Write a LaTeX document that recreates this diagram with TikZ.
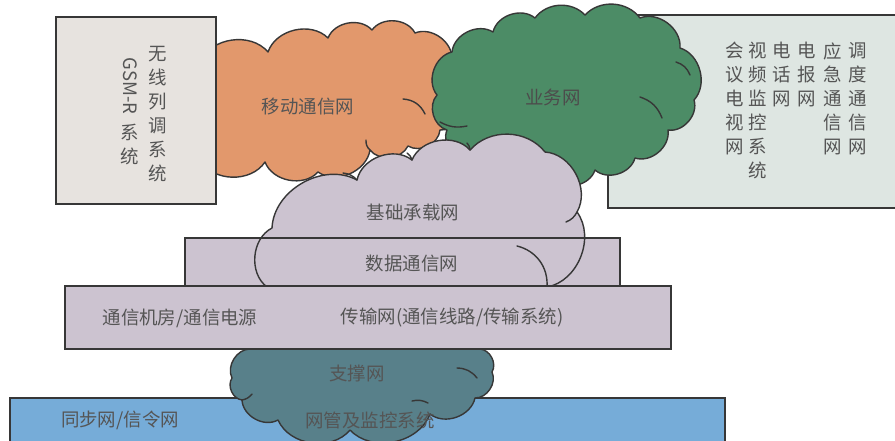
\documentclass[tikz,border=0pt]{standalone}
\usepackage{fontspec}
\newfontfamily\cjk{Noto Sans CJK SC}
\definecolor{linec}{RGB}{55,55,55}
\definecolor{textc}{RGB}{85,85,85}
\definecolor{orangec}{RGB}{226,152,108}
\definecolor{greenc}{RGB}{76,140,102}
\definecolor{lavc}{RGB}{204,195,208}
\definecolor{supc}{RGB}{88,128,138}
\definecolor{bluec}{RGB}{118,172,216}
\definecolor{gsmc}{RGB}{231,227,223}
\definecolor{svcc}{RGB}{222,230,226}
\begin{document}
\begin{tikzpicture}[x=0.02cm,y=-0.02cm,
  cloudline/.style={draw=linec, line width=0.8pt, line join=round},
  crease/.style={draw=linec, line width=0.8pt, line cap=round},
  pf/.style={bend left=58},
  boxbase/.style={draw=linec, line width=0.8pt},
  lbl/.style={font=\cjk\fontsize{10.5}{12}\selectfont, text=textc, inner sep=0pt},
  col/.style={lbl, align=center, anchor=north, font=\cjk\fontsize{10.5}{13.6}\selectfont}]
\clip (0,0) rectangle (895,440);
\fill[white] (0,0) rectangle (895,440);
% right service box
\path[boxbase, fill=svcc] (608,15) rectangle (905,208);
% orange cloud (mobile network)
\path[cloudline, fill=orangec] (200,62) to[pf] (268,52) to[pf] (328,38) to[pf] (372,30)
  to[pf] (415,33) to[pf] (452,60) to[pf] (462,100) to[pf] (440,130) to[pf] (408,146)
  to[pf] (370,150) to[pf] (318,172) to[pf] (265,162) to[pf] (200,160) to[pf] (200,62) -- cycle;
\draw[crease] (403,99) to[bend left=30] (425,114);
\draw[crease] (432,79) to[bend right=30] (455,70);
\draw[crease] (370,150) to[bend left=25] (366,140);
% left GSM-R box
\path[boxbase, fill=gsmc] (56,17) rectangle (216,204);
% green cloud (service network)
\path[cloudline, fill=greenc] (437,95) to[pf] (452,52) to[pf] (493,32) to[pf] (535,18)
  to[bend left=50] (585,15) to[bend left=50] (640,18) to[pf] (680,48) to[pf] (694,100)
  to[pf] (668,130) to[pf] (635,158) to[pf] (595,170) to[pf] (555,180) to[pf] (510,172)
  to[pf] (470,162) to[pf] (447,130) to[pf] (437,95) -- cycle;
\draw[crease] (440,122) to[bend right=20] (467,126);
\draw[crease] (640,97) to[bend left=25] (662,118);
\draw[crease] (676,62) to[bend left=25] (690,75);
% lavender cloud (base bearer network)
\path[fill=lavc] (267,287) to[pf] (272,228) to[pf] (357,180) to[pf] (412,160) to[pf] (470,150)
  to[bend left=50] (545,152) to[pf] (577,212) to[pf] (547,287) to[bend left=20] (267,287) -- cycle;
% data box
\path[boxbase, fill=lavc] (185,238) rectangle (620,286);
\path[cloudline] (267,287) to[pf] (272,228) to[pf] (357,180) to[pf] (412,160) to[pf] (470,150)
  to[bend left=50] (545,152) to[pf] (577,212) to[pf] (547,287);
\draw[crease] (357,180) to[bend right=20] (343,173);
\draw[crease] (412,160) to[bend right=20] (407,153);
\draw[crease] (470,150) to[bend right=20] (467,143);
\draw[crease] (577,212) to[bend left=20] (566,222);
\draw[crease] (517,246) to[bend left=40] (547,287);
% blue bottom box
\path[boxbase, fill=bluec] (10,398) rectangle (725,450);
% support cloud
\path[cloudline, fill=supc] (250,340) -- (480,340) -- (480,349) to[pf] (492,372) to[pf] (475,398)
  to[pf] (430,414) to[pf] (350,430) to[pf] (278,420) to[pf] (242,400) to[pf] (232,378)
  to[pf] (250,349) -- cycle;
\draw[crease] (457,368) to[bend left=25] (477,378);
\draw[crease] (412,401) to[bend left=20] (428,403);
\draw[crease] (242,400) to[bend right=20] (252,394);
% transport box
\path[boxbase, fill=lavc] (65,286) rectangle (671,349);
% labels
\node[lbl] (tmobile) at (308,107) {移动通信网};
\node[lbl, text=black!70] (tservice) at (553,97) {业务网};
\node[lbl] (tbase) at (413,212) {基础承载网};
\node[lbl] (tdata) at (412,263) {数据通信网};
\node[lbl] (troom) at (180,318) {通信机房/通信电源};
\node[lbl] (ttrans) at (452,318) {传输网(通信线路/传输系统)};
\node[lbl] (tsup) at (357,373) {支撑网};
\node[lbl] (tsync) at (120,420) {同步网/信令网};
\node[lbl] (tnms) at (370,420) {网管及监控系统};
% left box columns
\node[col] (tradio) at (158,46) {无\\线\\列\\调\\系\\统};
\node[lbl, rotate=-90] (tgsm) at (130,86) {GSM-R};
\node[col] (tgsmsys) at (130,124) {系\\统};
% right box columns
\node[col] (c1) at (735,42) {会\\议\\电\\视\\网};
\node[col] (c2) at (758,42) {视\\频\\监\\控\\系\\统};
\node[col] (c3) at (782,42) {电\\话\\网};
\node[col] (c4) at (807,42) {电\\报\\网};
\node[col] (c5) at (833,42) {应\\急\\通\\信\\网};
\node[col] (c6) at (858,42) {调\\度\\通\\信\\网};
\end{tikzpicture}
\end{document}
